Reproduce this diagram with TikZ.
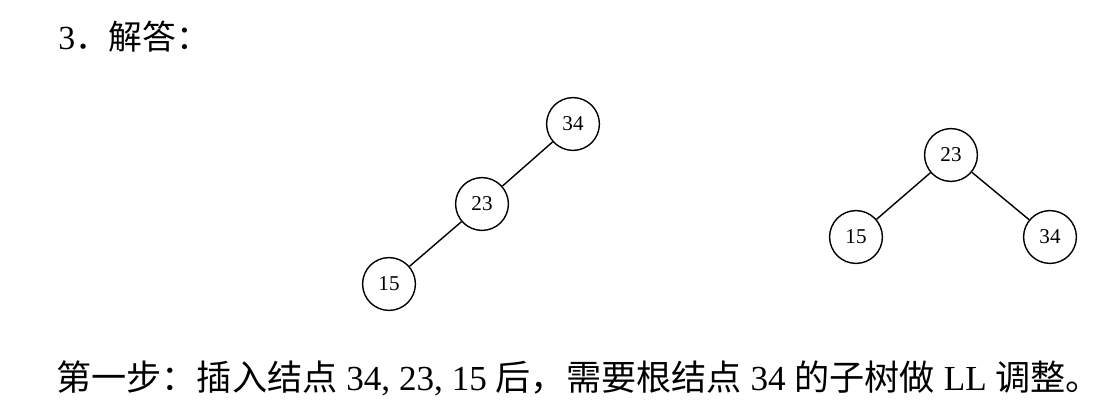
\documentclass[tikz,border=0pt]{standalone}
\usepackage{fontspec}
\setmainfont{Liberation Serif}
\newfontfamily\cjk{Noto Sans CJK SC}
\usetikzlibrary{positioning}
\tikzset{
  tnode/.style={ draw, circle, line width=1pt, minimum size=13.2mm, inner sep=0pt, font=\fontsize{15}{17}\selectfont }
}
\tikzset{
  txt/.style={ anchor=west, inner sep=0pt, font=\fontsize{24}{28}\selectfont }
}

\begin{document}
\begin{tikzpicture}[x=0.025cm, y=-0.025cm]
      \useasboundingbox (0,0) rectangle (1120,408);

      \node[txt] (title) at (58, 37) {3{\cjk．解答：}};

      % before adjusting
      \node[tnode] (a34) at (573, 124) {34};
      \node[tnode] (a23) at (482, 204) {23};
      \node[tnode] (a15) at (389, 284) {15};

      % after LL
      \node[tnode] (b23) at (951, 155) {23};
      \node[tnode] (b15) at (856, 237) {15};
      \node[tnode] (b34) at (1050, 237) {34};

      \begin{scope}[line width=1pt]
        \draw (a34) -- (a23);
        \draw (a23) -- (a15);
        \draw (b23) -- (b15);
        \draw (b23) -- (b34);
      \end{scope}

      \node[txt, font=\fontsize{25}{29}\selectfont] (step) at (56, 378) {{\cjk 第一步：插入结点} 34, 23, 15 {\cjk 后，需要根结点} 34 {\cjk 的子树做} LL {\cjk 调整。}};
    \end{tikzpicture}
\end{document}
